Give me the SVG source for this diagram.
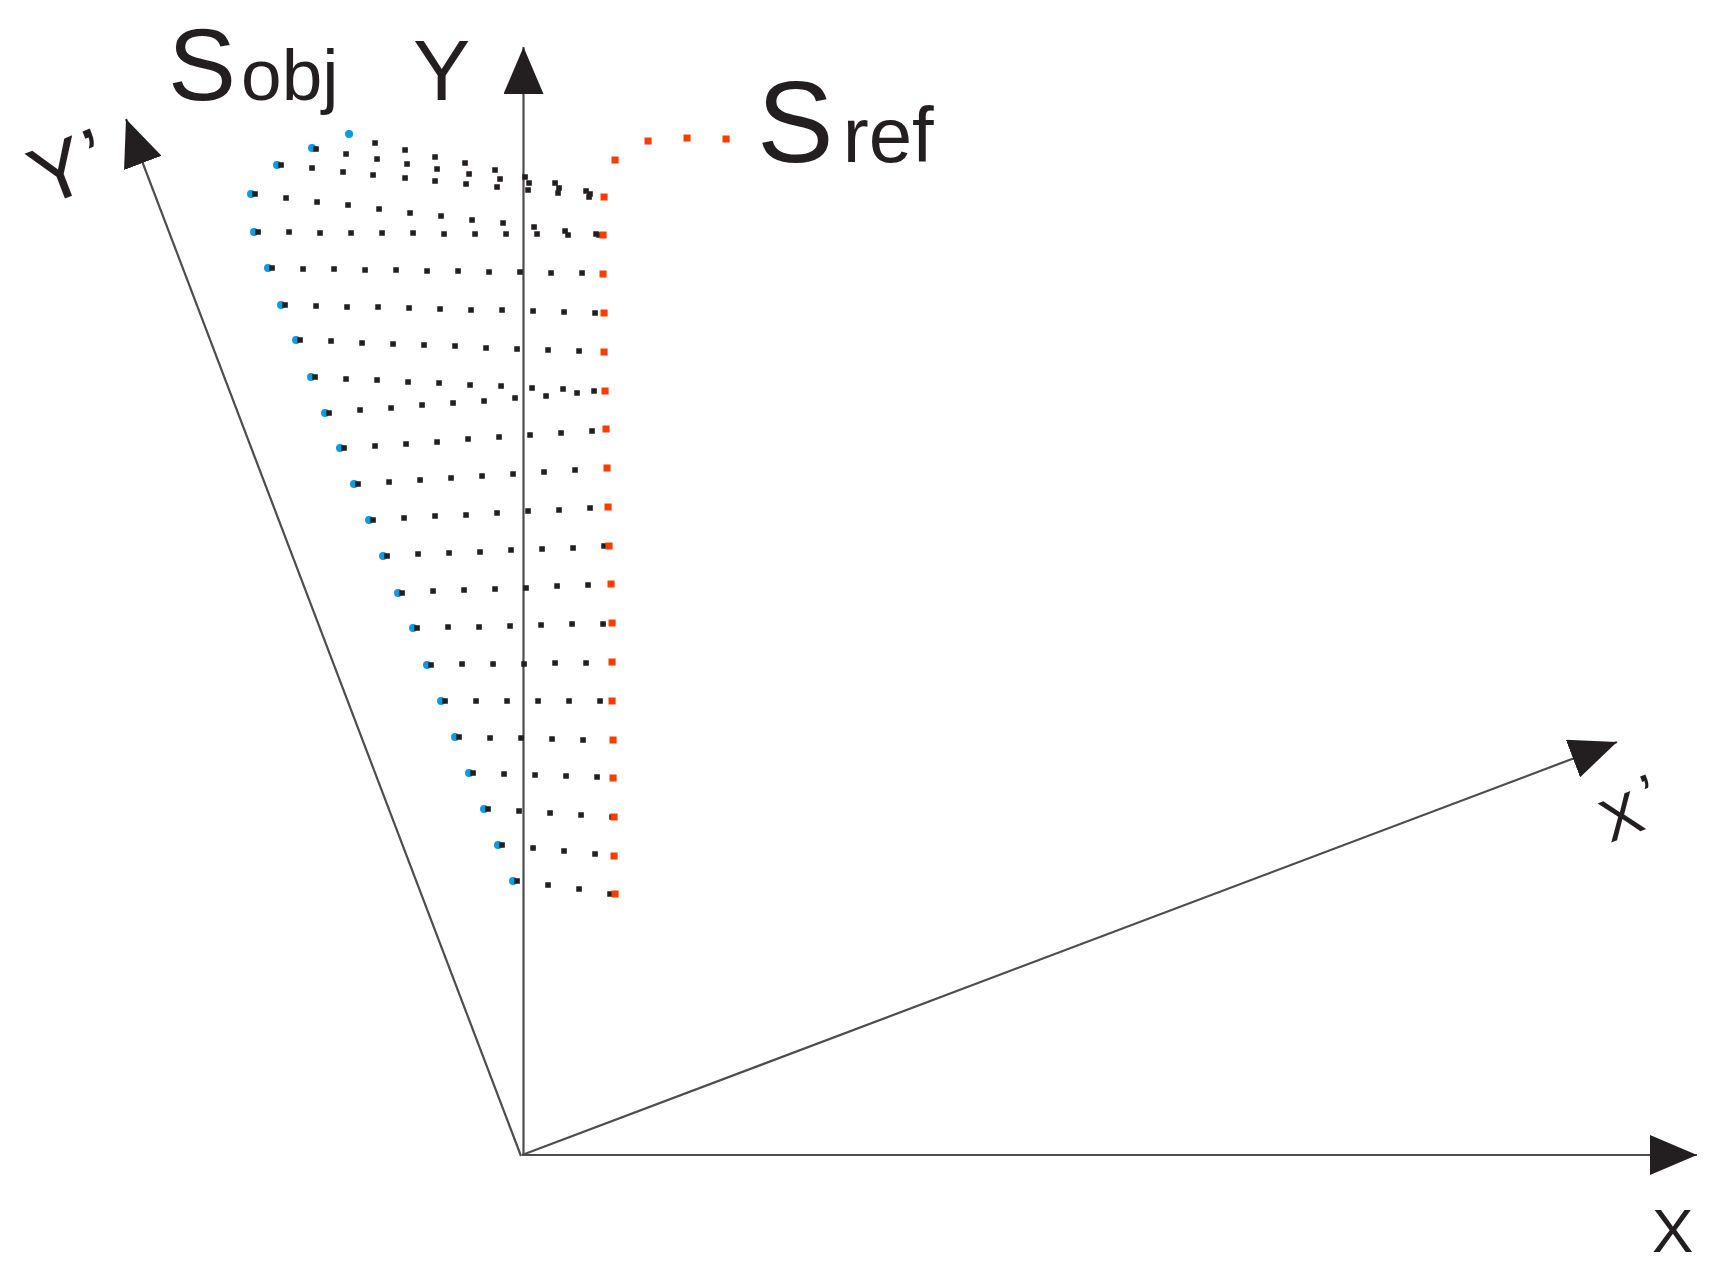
<svg xmlns="http://www.w3.org/2000/svg" width="1714" height="1282" viewBox="0 0 1714 1282">
<style>
  .lbl { font-family: "Liberation Sans", Arial, sans-serif; fill: #231f20; }
  .axis { stroke: #4d4d4d; stroke-width: 2.2; fill: none; }
  .blk { stroke: #231f20; stroke-width: 5.5; stroke-linecap: square; fill: none; }
  .blu { stroke: #0a9be0; stroke-width: 8; stroke-linecap: round; fill: none; }
  .red { stroke: #ff3c00; stroke-width: 7; stroke-linecap: square; fill: none; }
</style>
<defs>
  <marker id="ah" markerUnits="userSpaceOnUse" markerWidth="48" markerHeight="40" refX="47" refY="20" orient="auto">
    <path d="M0,0 L47,20 L0,40 Z" fill="#231f20"/>
  </marker>
</defs>
<rect width="1714" height="1282" fill="#ffffff"/>

<g id="connectors">
  <line class="axis" x1="522" y1="1155" x2="1697" y2="1155" marker-end="url(#ah)"/>
  <line class="axis" x1="523.5" y1="1155" x2="523.5" y2="47" marker-end="url(#ah)"/>
  <line class="axis" x1="521" y1="1156" x2="126" y2="119" marker-end="url(#ah)"/>
  <line class="axis" x1="522" y1="1155" x2="1617" y2="742" marker-end="url(#ah)"/>
</g>

<g id="sobj-points">
  <path class="blu" d="M349,134h.1M312,148h.1M277,165h.1M251,194h.1M254,232h.1M268,268h.1M281,305h.1M296,340h.1M311,377h.1M325,413h.1M340,448h.1M354,484h.1M369,520h.1M383,556h.1M398,593h.1M413,628h.1M427,665h.1M441,701h.1M455,737h.1M469,773h.1M484,809h.1M498,845h.1M513,881h.1"/>
</g>

<g id="grid-points">
  <path class="blk" d="M375,143h.1M405,150h.1M435,157h.1M465,163h.1M495,170h.1M525,177h.1M555,183h.1M586,191h.1
  M316,149h.1M346,154h.1M377,159h.1M407,164h.1M437,169h.1M469,174h.1M500,179h.1M529,183h.1M559,188h.1M590,194h.1
  M281,165h.1M312,168h.1M343,172h.1M373,175h.1M405,178h.1M435,181h.1M466,184h.1M497,187h.1M528,190h.1M558,193h.1M589,197h.1
  M255,194h.1M286,198h.1M317,202h.1M348,205h.1M379,209h.1M410,213h.1M441,216h.1M472,220h.1M503,223h.1M534,227h.1M565,231h.1M596,234h.1
  M258,232h.1M289,232h.1M320,233h.1M351,233h.1M382,233h.1M413,233h.1M444,234h.1M475,234h.1M506,234h.1M537,234h.1M568,235h.1M599,235h.1
  M272,268h.1M303,269h.1M334,269h.1M365,270h.1M396,270h.1M427,271h.1M458,271h.1M489,272h.1M520,272h.1M551,273h.1M582,273h.1
  M285,305h.1M316,306h.1M347,307h.1M378,307h.1M409,308h.1M440,309h.1M471,310h.1M502,310h.1M533,311h.1M564,312h.1M595,313h.1
  M300,340h.1M331,341h.1M362,343h.1M393,344h.1M424,345h.1M455,346h.1M486,348h.1M517,349h.1M548,350h.1M579,351h.1
  M315,377h.1M346,379h.1M377,380h.1M408,382h.1M439,383h.1M470,385h.1M501,386h.1M532,388h.1M563,389h.1M594,391h.1
  M329,413h.1M360,410h.1M391,408h.1M422,405h.1M453,403h.1M484,401h.1M515,398h.1M546,396h.1M577,393h.1
  M344,448h.1M375,446h.1M406,444h.1M437,442h.1M468,439h.1M499,437h.1M530,435h.1M561,433h.1M592,431h.1
  M358,484h.1M389,482h.1M420,480h.1M451,478h.1M482,476h.1M513,474h.1M544,472h.1M575,470h.1
  M373,520h.1M404,518h.1M435,516h.1M466,515h.1M497,513h.1M528,511h.1M559,510h.1M590,508h.1
  M387,556h.1M418,554h.1M449,553h.1M480,552h.1M511,550h.1M542,549h.1M573,548h.1M604,546h.1
  M402,593h.1M433,591h.1M464,590h.1M495,589h.1M526,588h.1M557,586h.1M588,585h.1
  M417,628h.1M448,627h.1M479,627h.1M510,626h.1M541,625h.1M572,624h.1M603,624h.1
  M431,665h.1M462,664h.1M493,664h.1M524,664h.1M555,663h.1M586,663h.1
  M445,701h.1M476,701h.1M507,701h.1M538,701h.1M569,701h.1M600,701h.1
  M459,737h.1M490,738h.1M521,738h.1M552,739h.1M583,740h.1
  M473,773h.1M504,774h.1M535,775h.1M566,776h.1M597,777h.1
  M488,809h.1M519,811h.1M550,813h.1M581,815h.1M612,817h.1
  M502,845h.1M533,848h.1M564,851h.1M595,854h.1
  M517,881h.1M548,885h.1M579,889h.1M610,894h.1"/>
</g>

<g id="sref-points">
  <path class="red" d="M604,197h.1M603,235h.1M603,274h.1M604,313h.1M604,352h.1M605,391h.1M606,429h.1M607,468h.1M608,507h.1M609,546h.1M611,584h.1M612,623h.1M612,662h.1M612,701h.1M613,740h.1M613,778h.1M614,817h.1M614,856h.1M615,894h.1M615,160h.1M648,141h.1M687,138h.1M726,139h.1"/>
</g>

<g id="label-sobj">
  <text class="lbl" x="168" y="100" font-size="102">S<tspan font-size="73" dx="5">obj</tspan></text>
</g>
<g id="label-sref">
  <text class="lbl" x="757" y="162" font-size="115">S<tspan font-size="78" dx="9">ref</tspan></text>
</g>
<g id="label-y">
  <text class="lbl" x="413" y="100" font-size="86">Y</text>
</g>
<g id="label-x">
  <text class="lbl" x="1652" y="1252" font-size="62">X</text>
</g>
<g id="label-yprime">
  <text class="lbl" transform="translate(43,207) rotate(-21)" font-size="82">Y<tspan dx="4">’</tspan></text>
</g>
<g id="label-xprime">
  <text class="lbl" transform="translate(1610,843) rotate(-21)" font-size="60">X<tspan dx="8" dy="-10">’</tspan></text>
</g>
</svg>
